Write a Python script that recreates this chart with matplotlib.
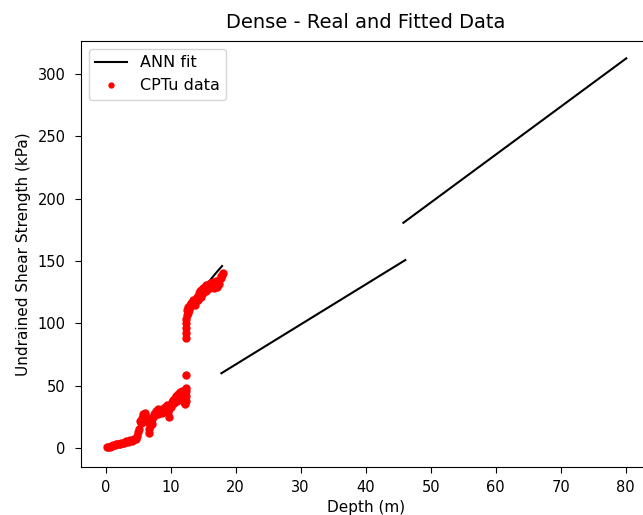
import numpy as np
import matplotlib
matplotlib.use('Agg')
import matplotlib.pyplot as plt

# CPTu measurements (depth in m, undrained shear strength in kPa)
cptu_depth = [
    0.2, 0.4, 0.6, 0.8, 1.0, 1.2, 1.4, 1.6, 1.8, 2.0, 2.2, 2.4, 2.6, 2.8, 3.0,
    3.2, 3.4, 3.6, 3.8, 4.0, 4.2, 4.4, 4.6, 4.8, 5.0, 5.2, 5.4, 5.6, 5.8, 6.0,
    6.2, 6.4, 6.6, 6.7, 6.8, 7.0, 7.2, 7.4, 7.6, 7.8, 8.0, 8.2, 8.4, 8.6, 8.8,
    9.0, 9.2, 9.4, 9.6, 9.7, 9.8, 10.0, 10.2, 10.4, 10.6, 10.8, 11.0, 11.2,
    11.4, 11.6, 11.8, 12.0, 12.1, 12.2, 12.3, 12.3, 12.3, 12.35, 12.35, 12.3,
    12.3, 12.35, 12.35, 12.4, 12.45, 12.5, 12.7, 12.9, 13.1, 13.3, 13.5, 13.7,
    13.9, 14.1, 14.3, 14.5, 14.7, 14.9, 15.1, 15.3, 15.5, 15.7, 15.9, 16.1,
    16.3, 16.5, 16.7, 16.9, 17.1, 17.3, 17.5, 17.7, 17.9, 18.0,
    # second band (scatter thickness)
    5.3, 5.7, 6.1, 6.5, 7.1, 7.5, 8.1, 8.7, 9.3, 10.1, 10.5, 10.9, 11.3, 11.7,
    12.6, 12.8, 13.0, 13.4, 13.8, 14.2, 14.6, 15.0, 15.4, 15.8, 16.2, 16.6,
    17.0, 17.4, 17.8,
]
cptu_su = [
    0.8, 1.2, 1.0, 1.6, 1.9, 2.4, 2.2, 2.9, 3.1, 3.6, 3.4, 4.0, 4.4, 4.2, 4.9,
    5.3, 5.0, 5.6, 6.1, 5.8, 6.3, 6.9, 7.4, 9.6, 12.8, 15.6, 19.8, 24.1, 27.5, 26.0,
    23.4, 21.8, 15.2, 12.0, 17.5, 21.0, 23.0, 25.8, 28.3, 29.5, 27.6, 30.6, 29.0, 31.2, 30.0,
    31.5, 33.0, 34.6, 29.0, 25.0, 31.5, 35.0, 37.0, 38.6, 40.5, 42.0, 41.2, 43.5,
    44.8, 43.0, 41.0, 39.0, 37.0, 35.0, 38.0, 42.0, 45.5, 48.0, 58.5, 88.0,
    92.0, 96.0, 100.0, 103.5, 107.0, 110.5, 113.0, 115.0, 116.2, 115.4, 117.0, 118.0,
    119.5, 121.5, 124.0, 126.0, 127.0, 128.3, 127.0, 129.5, 130.8, 129.8, 131.5, 129.4,
    131.0, 133.0, 132.0, 130.0, 129.5, 133.0, 135.0, 136.5, 139.0, 140.5,
    22.0, 20.5, 28.0, 24.5, 19.0, 27.0, 31.0, 28.5, 30.5, 33.0, 36.5, 38.0, 42.0, 46.0,
    108.0, 111.0, 113.5, 119.0, 115.0, 118.5, 121.0, 124.5, 126.0, 127.5, 132.0, 128.0,
    134.0, 131.5, 138.0,
]

# ANN fit (NaN separates the three predicted segments)
fit_depth = [15.5, 16.9, 17.9, np.nan, 17.8, 46.1, np.nan, 45.8, 80.1]
fit_su = [131.0, 140.0, 146.0, np.nan, 60.0, 150.8, np.nan, 180.7, 312.6]

fig = plt.figure(figsize=(6.43, 5.15), dpi=100)
ax = fig.add_axes([81 / 643, 48 / 515, 570 / 643, 426 / 515])

ax.plot(fit_depth, fit_su, 'k-', label='ANN fit')
ax.plot(cptu_depth, cptu_su, 'r.', markersize=10, label='CPTu data')

ax.set_xlim(-3.8, 83.9)
ax.set_ylim(-15.2, 326.5)
ax.set_xticks([0, 10, 20, 30, 40, 50, 60, 70, 80])
ax.set_yticks([0, 50, 100, 150, 200, 250, 300])
ax.tick_params(labelsize=10.5, length=4)
ax.tick_params(axis='x', pad=5)
ax.tick_params(axis='y', pad=7)
ax.set_title('Dense - Real and Fitted Data', fontsize=14, pad=9)
ax.set_xlabel('Depth (m)', fontsize=11)
ax.set_ylabel('Undrained Shear Strength (kPa)', fontsize=11, labelpad=5)
ax.legend(loc='upper left', markerscale=0.7, fontsize=11.5)

fig.savefig('out.png', dpi=100)
